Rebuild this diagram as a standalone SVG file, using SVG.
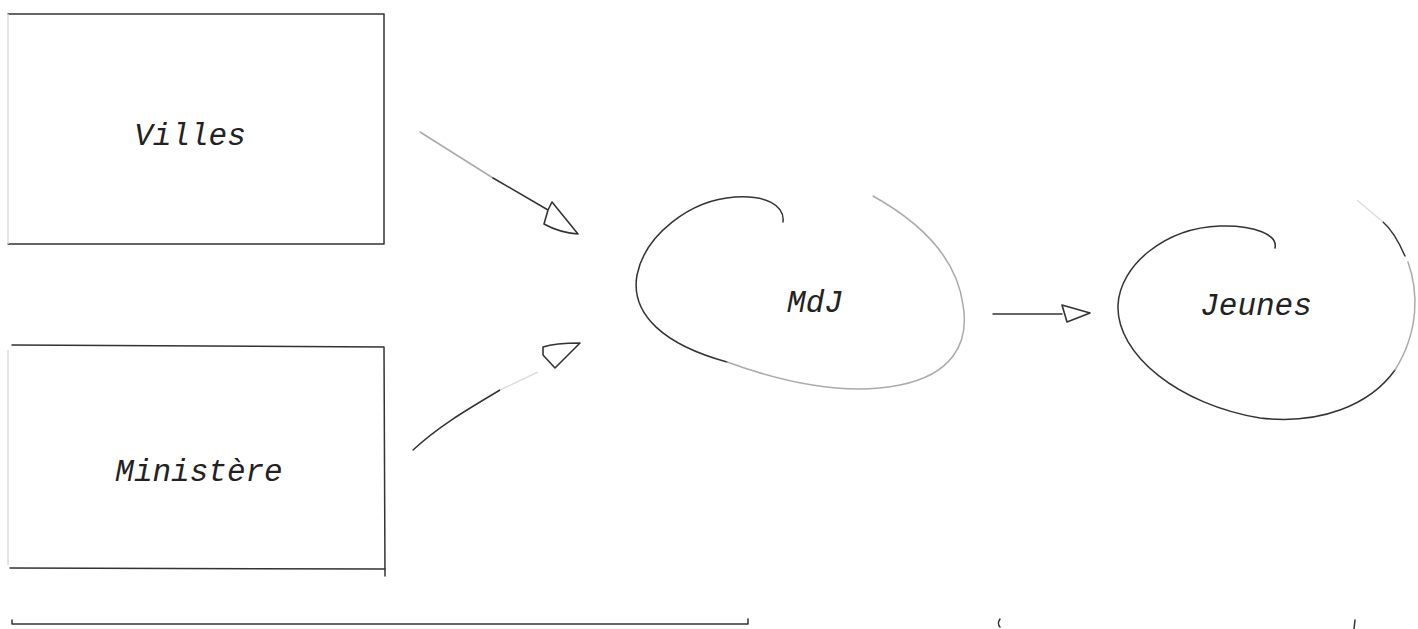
<svg xmlns="http://www.w3.org/2000/svg" width="1418" height="629" viewBox="0 0 1418 629">
<style>
.lbl{font-family:"Liberation Mono","Courier New",monospace;font-style:italic;font-size:31px;fill:#222;text-anchor:middle}
.ln{fill:none;stroke:#333;stroke-width:1.5;stroke-linecap:round;stroke-linejoin:round}
.lt{fill:none;stroke:#aaa;stroke-width:1.5;stroke-linecap:round}
.fa{fill:none;stroke:#ddd;stroke-width:1.5}
.hd{fill:#fff;stroke:#333;stroke-width:1.6;stroke-linejoin:round}
</style>
<rect width="1418" height="629" fill="#fff"/>
<g id="villes">
<path class="ln" d="M8,14 L384,14 L384,244 L8,244"/>
<path class="fa" d="M8,14 L8,244"/>
<text class="lbl" x="190" y="145">Villes</text>
</g>
<g id="ministere">
<path class="ln" d="M12,345 L384,347 L385,576"/>
<path class="ln" d="M10,568 L385,569"/>
<path class="fa" d="M8,350 L8,565"/>
<text class="lbl" x="199" y="481">Ministère</text>
</g>
<g id="mdj">
<path class="ln" d="M783,222 C785,205 765,195 735,197 C690,200 645,235 637,275 C630,315 665,345 727,362"/>
<path class="lt" d="M727,362 C790,385 850,395 900,385 C950,375 970,345 963,305 C957,260 925,225 873,196"/>
<text class="lbl" x="815" y="312">MdJ</text>
</g>
<g id="jeunes">
<path class="ln" d="M1275,248 C1278,235 1255,225 1220,226 C1165,228 1120,265 1118,305 C1116,355 1180,405 1260,418 C1320,425 1370,405 1395,370"/>
<path class="lt" d="M1395,370 C1420,330 1418,290 1408,262"/>
<path class="ln" d="M1405,256 C1398,240 1390,228 1383,222"/>
<path class="fa" d="M1383,222 L1357,200"/>
<text class="lbl" x="1256" y="315">Jeunes</text>
</g>
<g id="connectors">
<path class="lt" d="M420,132 L493,178"/>
<path class="ln" d="M493,178 L548,210"/>
<path class="hd" d="M552,202 L578,234 C565,233 553,229 544,224 L548,210 Z"/>
<path class="ln" d="M413,450 C440,425 470,408 500,390"/>
<path class="fa" d="M500,390 L538,372"/>
<path class="hd" d="M543,347 C555,343 568,343 580,343 L555,368 L543,355 Z"/>
<path class="ln" d="M993,314 L1062,314"/>
<path class="hd" d="M1062,305 L1090,313 L1067,322 Z"/>
<path class="ln" d="M12,620 L12,624 L748,624 L748,619"/>
<path class="ln" d="M1000,619 C998,622 998,625 1000,627"/>
<path class="ln" d="M1355,620 L1354,629"/>
</g>
</svg>
